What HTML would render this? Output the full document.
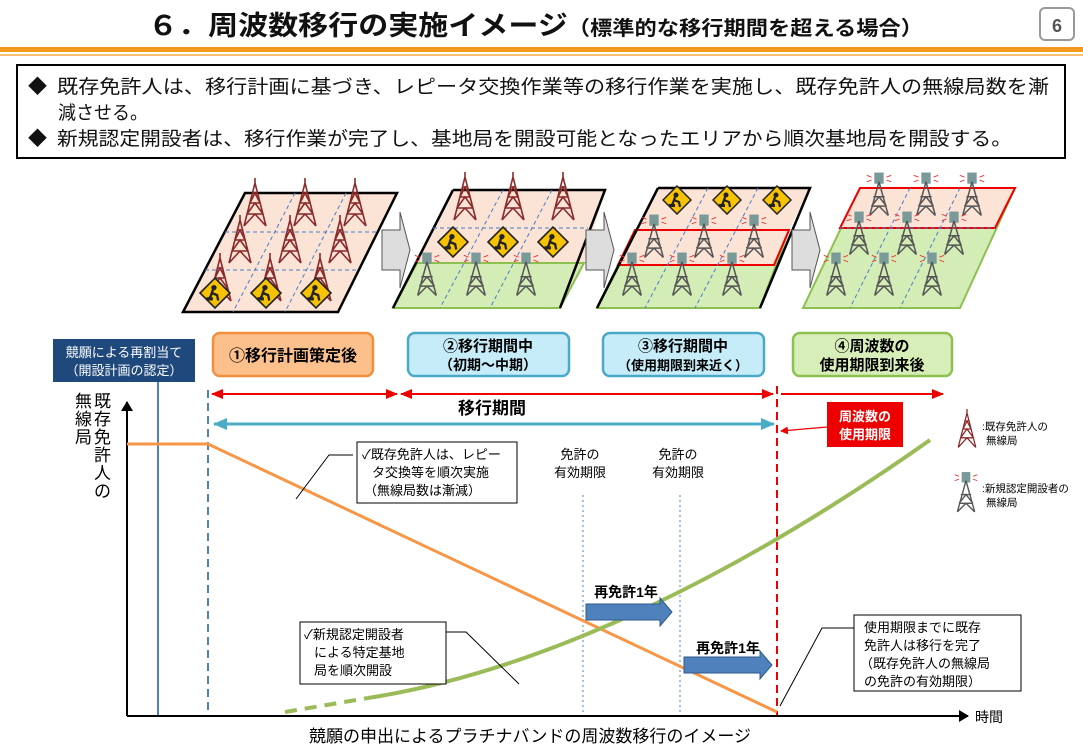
<!DOCTYPE html>
<html><head><meta charset="utf-8"><style>
body{margin:0;background:#fff;}
svg{display:block;font-family:"Liberation Sans","Noto Sans CJK JP",sans-serif;}
.b{font-weight:bold;}
</style></head><body>
<svg width="1083" height="750" viewBox="0 0 1083 750" xmlns="http://www.w3.org/2000/svg">
<defs>
<symbol id="rt" viewBox="0 0 30 50">
<path d="M15 0 L15 6 M15 5 L4 48 M15 5 L26 48 M10 25 L20 25 M7 36 L23 36 M12 15 L18 15 M4 48 L15 36 L26 48 M7 36 L15 25 L23 36 M10 25 L15 15 L20 25" stroke="#8b2a2a" stroke-width="1.6" fill="none"/>
</symbol>
<symbol id="gt" viewBox="0 0 30 50">
<rect x="10" y="2" width="10" height="12" fill="#7a9a9a"/>
<path d="M15 12 L5 48 M15 12 L25 48 M9 28 L21 28 M7 38 L23 38 M5 48 L15 38 L25 48 M7 38 L15 28 L23 38" stroke="#555" stroke-width="1.6" fill="none"/>
<path d="M2 5 L7 7 M28 5 L23 7 M2 12 L7 10 M28 12 L23 10" stroke="#e33" stroke-width="1"/>
</symbol>
<symbol id="ws" viewBox="0 0 30 30">
<path d="M15 1 L29 15 L15 29 L1 15Z" fill="#f7c300" stroke="#222" stroke-width="1.5"/>
<circle cx="14" cy="10" r="2.5" fill="#222"/><path d="M13 12 L11 18 L9 21 M12 15 L17 17 L18 22" stroke="#222" stroke-width="2.2" fill="none"/><rect x="7" y="19" width="6" height="3" fill="#222"/>
</symbol>
<marker id="ar" markerUnits="userSpaceOnUse" markerWidth="12" markerHeight="10" refX="11" refY="5" orient="auto"><path d="M0 0L12 5L0 10Z" fill="#e00"/></marker>
<marker id="al" markerUnits="userSpaceOnUse" markerWidth="12" markerHeight="10" refX="1" refY="5" orient="auto"><path d="M12 0L0 5L12 10Z" fill="#e00"/></marker>
<marker id="bk" markerUnits="userSpaceOnUse" markerWidth="10" markerHeight="12" refX="9" refY="6" orient="auto"><path d="M0 0L10 6L0 12Z" fill="#000"/></marker>
<marker id="br" markerUnits="userSpaceOnUse" markerWidth="14" markerHeight="12" refX="13" refY="6" orient="auto"><path d="M0 0L14 6L0 12Z" fill="#4bacc6"/></marker>
<marker id="bl" markerUnits="userSpaceOnUse" markerWidth="14" markerHeight="12" refX="1" refY="6" orient="auto"><path d="M14 0L0 6L14 12Z" fill="#4bacc6"/></marker>
<marker id="rs" markerUnits="userSpaceOnUse" markerWidth="8" markerHeight="8" refX="7" refY="4" orient="auto"><path d="M0 0L8 4L0 8Z" fill="#e00"/></marker>
</defs>

<!-- header -->
<text x="148" y="35" class="b" font-size="27" fill="#111" textLength="775" lengthAdjust="spacingAndGlyphs">６．周波数移行の実施イメージ<tspan font-size="20">（標準的な移行期間を超える場合）</tspan></text>
<rect x="1040" y="8" width="34" height="32" rx="5" fill="#fff" stroke="#999" stroke-width="2"/>
<text x="1057" y="32" text-anchor="middle" class="b" font-size="18" fill="#555">6</text>
<rect x="0" y="47" width="1083" height="5" fill="#f39a1e"/>
<rect x="0" y="54" width="1083" height="2" fill="#f8c070"/>
<rect x="17" y="65" width="1048" height="93" fill="#fff" stroke="#000" stroke-width="2"/>
<text font-size="19" fill="#111">
<tspan x="28" y="93">◆</tspan><tspan x="57" y="93" textLength="992" lengthAdjust="spacingAndGlyphs">既存免許人は、移行計画に基づき、レピータ交換作業等の移行作業を実施し、既存免許人の無線局数を漸</tspan>
<tspan x="58" y="119" textLength="90" lengthAdjust="spacingAndGlyphs">減させる。</tspan>
<tspan x="28" y="145">◆</tspan><tspan x="57" y="145" textLength="955" lengthAdjust="spacingAndGlyphs">新規認定開設者は、移行作業が完了し、基地局を開設可能となったエリアから順次基地局を開設する。</tspan></text>

<!-- panels -->
<g>
<path d="M245 193 L397 193 L338 312 L183 312Z" fill="#fbe3d6" stroke="#000" stroke-width="2.5"/>
<path d="M225 232 L378 232 M205 270 L358 270 M295 193 L233 312 M346 193 L285 312" stroke="#4a7cc8" stroke-dasharray="4 3" fill="none"/>
<use href="#rt" x="240" y="178" width="30" height="50"/><use href="#rt" x="290" y="178" width="30" height="50"/><use href="#rt" x="340" y="178" width="30" height="50"/>
<use href="#rt" x="225" y="215" width="30" height="50"/><use href="#rt" x="275" y="215" width="30" height="50"/><use href="#rt" x="325" y="215" width="30" height="50"/>
<use href="#rt" x="205" y="253" width="30" height="50"/><use href="#rt" x="255" y="253" width="30" height="50"/><use href="#rt" x="305" y="253" width="30" height="50"/>
<use href="#ws" x="199" y="277" width="32" height="32"/><use href="#ws" x="250" y="277" width="32" height="32"/><use href="#ws" x="300" y="277" width="32" height="32"/>
</g>
<path d="M382 230 L400 230 L400 212 L410 250 L400 288 L400 270 L382 270Z" fill="#ddd" stroke="#555"/>
<g>
<path d="M453 190 L605 190 L584 263 L417 263Z" fill="#fbe3d6"/>
<path d="M417 263 L584 263 L560 308 L393 308Z" fill="#d4ecb6" stroke="#8cc04f" stroke-width="2"/>
<path d="M453 190 L605 190 L560 308 M393 308 L453 190" stroke="#000" stroke-width="2.5" fill="none"/>
<path d="M433 228 L588 228 M503 190 L440 308 M552 190 L490 308" stroke="#4a7cc8" stroke-dasharray="4 3" fill="none"/>
<use href="#rt" x="450" y="172" width="30" height="50"/><use href="#rt" x="498" y="172" width="30" height="50"/><use href="#rt" x="548" y="172" width="30" height="50"/>
<use href="#ws" x="437" y="226" width="32" height="32"/><use href="#ws" x="487" y="226" width="32" height="32"/><use href="#ws" x="537" y="226" width="32" height="32"/>
<use href="#gt" x="413" y="248" width="28" height="52"/><use href="#gt" x="462" y="248" width="28" height="52"/><use href="#gt" x="512" y="248" width="28" height="52"/>
</g>
<path d="M586 230 L604 230 L604 212 L614 250 L604 288 L604 270 L586 270Z" fill="#ddd" stroke="#555"/>
<g>
<path d="M658 188 L810 188 L789 230 L635 230Z" fill="#fbe3d6"/>
<path d="M635 230 L789 230 L760 308 L597 308Z" fill="#d4ecb6" stroke="#8cc04f" stroke-width="2"/>
<path d="M635 230 L789 230 L774 265 L618 265Z" fill="#fbe3d6" stroke="#e00" stroke-width="2"/>
<path d="M658 188 L810 188 L760 308 M597 308 L658 188" stroke="#000" stroke-width="2.5" fill="none"/>
<path d="M708 188 L645 308 M758 188 L695 308" stroke="#4a7cc8" stroke-dasharray="4 3" fill="none"/>
<use href="#ws" x="662" y="185" width="30" height="30"/><use href="#ws" x="712" y="185" width="30" height="30"/><use href="#ws" x="762" y="185" width="30" height="30"/>
<use href="#gt" x="640" y="210" width="28" height="52"/><use href="#gt" x="690" y="210" width="28" height="52"/><use href="#gt" x="740" y="210" width="28" height="52"/>
<use href="#gt" x="618" y="248" width="28" height="52"/><use href="#gt" x="668" y="248" width="28" height="52"/><use href="#gt" x="718" y="248" width="28" height="52"/>
</g>
<path d="M792 230 L810 230 L810 212 L820 250 L810 288 L810 270 L792 270Z" fill="#ddd" stroke="#555"/>
<g>
<path d="M860 188 L1015 188 L960 308 L803 308Z" fill="#d4ecb6" stroke="#8cc04f" stroke-width="2"/>
<path d="M860 188 L1015 188 L995 228 L840 228Z" fill="#fbe3d6" stroke="#e00" stroke-width="2"/>
<path d="M840 228 L995 228 M910 188 L850 308 M960 188 L900 308" stroke="#4a7cc8" stroke-dasharray="4 3" fill="none"/>
<use href="#gt" x="865" y="168" width="28" height="52"/><use href="#gt" x="912" y="168" width="28" height="52"/><use href="#gt" x="958" y="168" width="28" height="52"/>
<use href="#gt" x="845" y="207" width="28" height="52"/><use href="#gt" x="893" y="207" width="28" height="52"/><use href="#gt" x="940" y="207" width="28" height="52"/>
<use href="#gt" x="822" y="248" width="28" height="52"/><use href="#gt" x="870" y="248" width="28" height="52"/><use href="#gt" x="918" y="248" width="28" height="52"/>
</g>

<!-- phase boxes -->
<rect x="53" y="339" width="142" height="43" fill="#1f497d"/>
<text x="124" y="357" text-anchor="middle" font-size="13" fill="#fff">競願による再割当て</text>
<text x="124" y="375" text-anchor="middle" font-size="13" fill="#fff">（開設計画の認定）</text>
<rect x="213" y="333" width="160" height="43" rx="7" fill="#fbc08c" stroke="#f28f3c" stroke-width="2.5"/>
<text x="293" y="361" text-anchor="middle" class="b" font-size="16">①移行計画策定後</text>
<rect x="408" y="333" width="161" height="43" rx="7" fill="#c6ecf9" stroke="#4aa9c8" stroke-width="2.5"/>
<text x="488" y="351" text-anchor="middle" class="b" font-size="15">②移行期間中</text>
<text x="488" y="370" text-anchor="middle" class="b" font-size="14">（初期～中期）</text>
<rect x="603" y="333" width="161" height="43" rx="7" fill="#c6ecf9" stroke="#4aa9c8" stroke-width="2.5"/>
<text x="683" y="351" text-anchor="middle" class="b" font-size="15">③移行期間中</text>
<text x="683" y="370" text-anchor="middle" class="b" font-size="13">（使用期限到来近く）</text>
<rect x="793" y="333" width="159" height="43" rx="7" fill="#d8eeb8" stroke="#8cc04f" stroke-width="2.5"/>
<text x="872" y="351" text-anchor="middle" class="b" font-size="15">④周波数の</text>
<text x="872" y="370" text-anchor="middle" class="b" font-size="15">使用期限到来後</text>

<!-- period arrows -->
<line x1="212" y1="394" x2="397" y2="394" stroke="#e00" stroke-width="2" marker-start="url(#al)" marker-end="url(#ar)"/>
<line x1="401" y1="394" x2="773" y2="394" stroke="#e00" stroke-width="2" marker-start="url(#al)" marker-end="url(#ar)"/>
<line x1="781" y1="394" x2="943" y2="394" stroke="#e00" stroke-width="2" marker-end="url(#ar)"/>
<text x="492" y="414" text-anchor="middle" class="b" font-size="17">移行期間</text>
<line x1="214" y1="424" x2="774" y2="424" stroke="#4bacc6" stroke-width="3" marker-start="url(#bl)" marker-end="url(#br)"/>

<!-- verticals -->
<line x1="158" y1="382" x2="158" y2="716" stroke="#4f81bd" stroke-width="2"/>
<line x1="208" y1="390" x2="208" y2="716" stroke="#4f81bd" stroke-width="2" stroke-dasharray="8 5"/>
<line x1="777" y1="386" x2="777" y2="716" stroke="#e00" stroke-width="2" stroke-dasharray="8 5"/>
<line x1="583" y1="495" x2="583" y2="715" stroke="#4f81bd" stroke-dasharray="2 3"/>
<line x1="680" y1="495" x2="680" y2="715" stroke="#4f81bd" stroke-dasharray="2 3"/>

<!-- axes -->
<line x1="127" y1="716" x2="127" y2="402" stroke="#000" stroke-width="2" marker-end="url(#bk)"/>
<line x1="127" y1="716" x2="968" y2="716" stroke="#000" stroke-width="2" marker-end="url(#bk)"/>
<text x="975" y="722" font-size="14">時間</text>
<text font-size="17"><tspan x="94" y="407">既</tspan><tspan x="94" y="425">存</tspan><tspan x="94" y="443">免</tspan><tspan x="94" y="461">許</tspan><tspan x="94" y="479">人</tspan><tspan x="94" y="497">の</tspan>
<tspan x="75" y="407">無</tspan><tspan x="75" y="425">線</tspan><tspan x="75" y="443">局</tspan></text>
<text x="530" y="742" text-anchor="middle" font-size="17">競願の申出によるプラチナバンドの周波数移行のイメージ</text>

<!-- lines -->
<path d="M127 444 L208 444 L777 712" stroke="#f79646" stroke-width="3" fill="none"/>
<path d="M285 712 L368 698" stroke="#9bbb59" stroke-width="4" stroke-dasharray="12 8" fill="none"/>
<path d="M368 698 C 560 668, 760 560, 930 440" stroke="#9bbb59" stroke-width="4" fill="none"/>

<!-- labels -->
<text x="580" y="459" text-anchor="middle" font-size="13">免許の</text>
<text x="580" y="477" text-anchor="middle" font-size="13">有効期限</text>
<text x="678" y="459" text-anchor="middle" font-size="13">免許の</text>
<text x="678" y="477" text-anchor="middle" font-size="13">有効期限</text>
<text x="626" y="597" text-anchor="middle" class="b" font-size="14">再免許1年</text>
<path d="M586 604 L660 604 L660 598 L672 612 L660 626 L660 620 L586 620Z" fill="#4f81bd" stroke="#2e5a8e"/>
<text x="728" y="653" text-anchor="middle" class="b" font-size="14">再免許1年</text>
<path d="M684 657 L760 657 L760 651 L772 665 L760 679 L760 673 L684 673Z" fill="#4f81bd" stroke="#2e5a8e"/>

<rect x="827" y="402" width="76" height="45" fill="#e00"/>
<text x="865" y="421" text-anchor="middle" class="b" font-size="13" fill="#fff">周波数の</text>
<text x="865" y="439" text-anchor="middle" class="b" font-size="13" fill="#fff">使用期限</text>
<line x1="827" y1="427" x2="781" y2="431" stroke="#e00" stroke-width="1.2" marker-end="url(#rs)"/>

<!-- callouts -->
<rect x="357" y="442" width="160" height="61" fill="#fff" stroke="#000"/>
<text font-size="13"><tspan x="362" y="459">✓既存免許人は、レピー</tspan><tspan x="372" y="477">タ交換等を順次実施</tspan><tspan x="364" y="495">（無線局数は漸減）</tspan></text>
<path d="M353 455 L329 455 L296 499" stroke="#000" fill="none"/>
<rect x="300" y="622" width="146" height="62" fill="#fff" stroke="#000"/>
<text font-size="13"><tspan x="304" y="639">✓新規認定開設者</tspan><tspan x="314" y="657">による特定基地</tspan><tspan x="314" y="675">局を順次開設</tspan></text>
<path d="M446 632 L466 632 L519 684" stroke="#000" fill="none"/>
<rect x="854" y="615" width="167" height="76" fill="#fff" stroke="#000"/>
<text font-size="13"><tspan x="864" y="632">使用期限までに既存</tspan><tspan x="864" y="650">免許人は移行を完了</tspan><tspan x="860" y="668">（既存免許人の無線局</tspan><tspan x="864" y="686">の免許の有効期限）</tspan></text>
<path d="M854 628 L822 628 L780 706" stroke="#000" fill="none"/>

<!-- legend -->
<use href="#rt" x="955" y="408" width="24" height="42"/>
<text font-size="10.5"><tspan x="982" y="430">:既存免許人の</tspan><tspan x="986" y="444">無線局</tspan></text>
<use href="#gt" x="953" y="468" width="26" height="48"/>
<text font-size="10.5"><tspan x="982" y="492">:新規認定開設者の</tspan><tspan x="986" y="506">無線局</tspan></text>
</svg>
</body></html>
